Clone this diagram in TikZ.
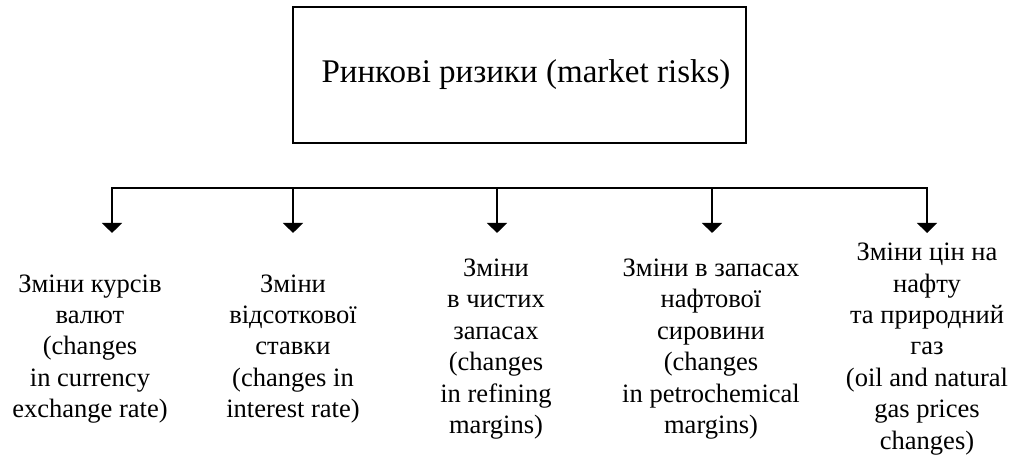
\documentclass[tikz,border=0pt]{standalone}
\usepackage{fontspec}
\setmainfont{Liberation Serif}
\usepackage{tikz}
\usetikzlibrary{arrows.meta,positioning,calc}

\begin{document}
\begin{tikzpicture}[>={Triangle[width=11.4pt,length=5.8pt]},scale=1.0,
  riskbox/.style={draw,line width=0.75pt,minimum width=9.06cm,minimum height=2.72cm,
    font=\fontsize{18.8}{22}\selectfont},
  riskitem/.style={align=center,inner sep=0pt,font=\fontsize{15.1}{17.9}\selectfont},
  bus/.style={line width=1.1pt}]
  \useasboundingbox (0,0) rectangle (20.3,9.12);
  % top box
  \node[riskbox] (market) at (10.39,7.62) {\hspace*{0.26cm}Ринкові ризики (market risks)};
  % bus and branches
  \coordinate (b1) at (2.24,5.36);
  \coordinate (b2) at (5.86,5.36);
  \coordinate (b3) at (9.94,5.36);
  \coordinate (b4) at (14.24,5.36);
  \coordinate (b5) at (18.54,5.36);
  \foreach \i in {1,...,5} \coordinate (t\i) at ($(b\i)+(0,-0.9)$);
  \draw[bus,line cap=rect] (b1) -- (b5);
  \foreach \i in {1,...,5} \draw[bus,->] (b\i) -- (t\i);
  % kinds of risk
  \node[riskitem] (fx) at (1.8,2.14) {Зміни курсів\\валют\\(changes\\in currency\\exchange rate)};
  \node[riskitem] (rate) at (5.86,2.14) {Зміни\\відсоткової\\ставки\\(changes in\\interest rate)};
  \node[riskitem] (refin) at (9.92,2.14) {Зміни\\в чистих\\запасах\\(changes\\in refining\\margins)};
  \node[riskitem] (petro) at (14.22,2.14) {Зміни в запасах\\нафтової\\сировини\\(changes\\in petrochemical\\margins)};
  \node[riskitem] (oil) at (18.54,2.14) {Зміни цін на\\нафту\\та природний\\газ\\(oil and natural\\gas prices\\changes)};
\end{tikzpicture}
\end{document}
